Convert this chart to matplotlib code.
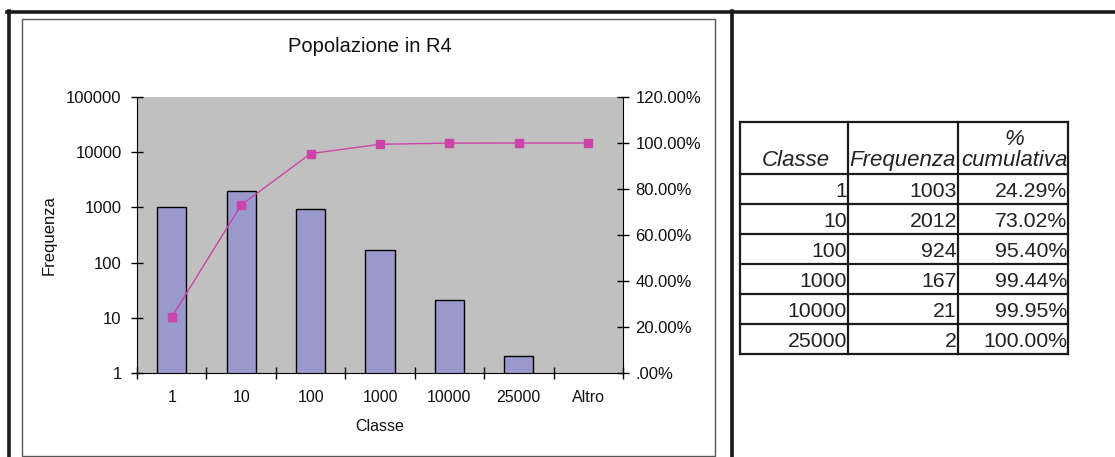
import numpy as np
import matplotlib.pyplot as plt
from matplotlib.patches import Rectangle
from matplotlib.lines import Line2D
from matplotlib.ticker import FixedLocator, FuncFormatter

plt.rcParams['font.family'] = ['Liberation Sans', 'DejaVu Sans']

# data
classes = ['1', '10', '100', '1000', '10000', '25000', 'Altro']
freq = [1003, 2012, 924, 167, 21, 2, 0]
cum_pct = [24.29, 73.02, 95.40, 99.44, 99.95, 100.00, 100.00]
table_cum = ['24.29%', '73.02%', '95.40%', '99.44%', '99.95%', '100.00%']

W, H = 1115, 457
fig = plt.figure(figsize=(W / 100, H / 100), dpi=100)

def fx(px):
    return px / W

def fy(py):
    return 1 - py / H

# outer thick frame lines
fig.add_artist(Line2D([fx(7), fx(1115)], [fy(12), fy(12)], color='#1a1a1a', lw=2.6))
fig.add_artist(Line2D([fx(8.5), fx(8.5)], [fy(11), fy(457)], color='#1a1a1a', lw=2.6))
fig.add_artist(Line2D([fx(732), fx(732)], [fy(11), fy(457)], color='#1a1a1a', lw=2.6))
# chart frame
fig.add_artist(Rectangle((fx(22), fy(456)), fx(715 - 22), (456 - 19) / H,
                         fill=False, edgecolor='#555555', lw=1.0))

# chart
ax = fig.add_axes([fx(137), fy(373), fx(623 - 137), (373 - 97) / H])
ax.set_facecolor('#c0c0c0')
ax.set_yscale('log')
x = np.arange(len(classes))
bx = [i for i, f in zip(x, freq) if f > 0]
bh = [f for f in freq if f > 0]
ax.bar(bx, bh, width=0.42, color='#9999cc', edgecolor='black', linewidth=1.0, zorder=2)
ax.set_ylim(1, 100000)
ax.set_xlim(-0.5, len(classes) - 0.5)
ax.yaxis.set_major_locator(FixedLocator([1, 10, 100, 1000, 10000, 100000]))
ax.yaxis.set_minor_locator(FixedLocator([]))
ax.yaxis.set_major_formatter(FuncFormatter(lambda v, p: '%d' % round(v)))
ax.xaxis.set_major_locator(FixedLocator(np.arange(-0.5, len(classes), 1.0)))
ax.xaxis.set_major_formatter(FuncFormatter(lambda v, p: ''))
ax.xaxis.set_minor_locator(FixedLocator(x))
ax.set_xticklabels(classes, minor=True)
ax.tick_params(axis='x', which='major', direction='inout', length=8, width=1)
ax.tick_params(axis='x', which='minor', length=0, pad=12, labelsize=11.5, labelcolor='#111111')
ax.tick_params(axis='y', direction='inout', length=8, width=1, labelsize=12, pad=7,
               labelcolor='#111111')
for s in ['top', 'right']:
    ax.spines[s].set_visible(False)
ax.spines['left'].set_color('black')
ax.spines['bottom'].set_color('black')
ax.set_xlabel('Classe', fontsize=11.5, labelpad=10, color='#111111')
ax.set_ylabel('Frequenza', fontsize=12, color='#111111', va='center')
ax.yaxis.set_label_coords((49 - 137) / (623 - 137), 0.5)
fig.text(fx(370), fy(46), 'Popolazione in R4', fontsize=14.5, ha='center', va='center',
         color='#111111')

ax2 = ax.twinx()
ax2.plot(x, np.array(cum_pct) / 100, color='#cc44aa', lw=1.0, marker='s',
         markersize=5.5, markeredgecolor='#cc44aa', zorder=3)
ax2.set_ylim(0, 1.2)
ax2.yaxis.set_major_locator(FixedLocator(np.arange(0, 1.21, 0.2)))
ax2.yaxis.set_major_formatter(FuncFormatter(
    lambda v, p: ('%.2f%%' % (v * 100)) if v > 0.001 else '.00%'))
ax2.tick_params(axis='y', direction='inout', length=8, width=1, labelsize=12, pad=5,
                labelcolor='#111111')
for s in ['top', 'left', 'bottom']:
    ax2.spines[s].set_visible(False)
ax2.spines['right'].set_color('black')

# table on the right
tl, tr, tt, tb = 740, 1068, 122, 354
cols = [740, 848, 958, 1068]
rows = [122, 174, 204, 234, 264, 294, 324, 354]
tax = fig.add_axes([fx(tl), fy(tb), fx(tr - tl), (tb - tt) / H])
tax.set_xlim(tl, tr)
tax.set_ylim(tb, tt)
tax.axis('off')
for c in cols:
    tax.plot([c, c], [tt, tb], color='#1a1a1a', lw=1.6, clip_on=False)
for r in rows:
    tax.plot([tl, tr], [r, r], color='#1a1a1a', lw=1.6, clip_on=False)

hfs = 16
dfs = 15.3
tax.text((cols[0] + cols[1]) / 2 + 2, 171, 'Classe', ha='center', va='bottom',
         fontsize=hfs, style='italic', color='#222222')
tax.text((cols[1] + cols[2]) / 2, 171, 'Frequenza', ha='center', va='bottom',
         fontsize=hfs, style='italic', color='#222222')
tax.text((cols[2] + cols[3]) / 2 + 1, 171, '%\ncumulativa', ha='center', va='bottom',
         fontsize=hfs, style='italic', color='#222222', linespacing=1.0)
for i in range(len(table_cum)):
    yb = rows[i + 2] - 3
    tax.text(cols[1] - 1, yb, classes[i], ha='right', va='bottom', fontsize=dfs, color='#222222')
    tax.text(cols[2] - 1, yb, str(freq[i]), ha='right', va='bottom', fontsize=dfs, color='#222222')
    tax.text(cols[3] - 1, yb, table_cum[i], ha='right', va='bottom', fontsize=dfs, color='#222222')

fig.savefig('out.png', dpi=100)
